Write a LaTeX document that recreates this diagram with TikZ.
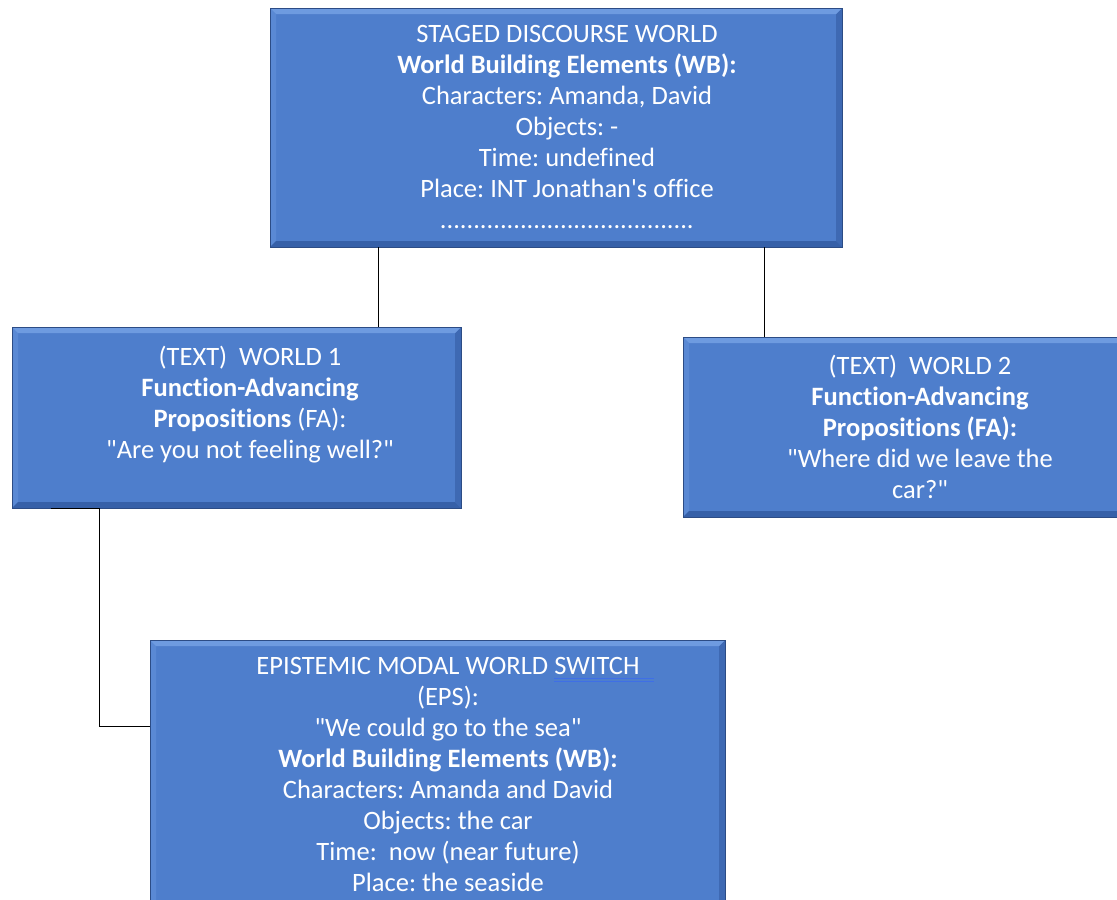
\documentclass[tikz,border=0pt]{standalone}
\usepackage{fontspec}
\setmainfont{Carlito}[Ligatures=TeXOff, RawFeature={-liga;-clig}]
\frenchspacing
\definecolor{boxfill}{HTML}{4E7ECC}
\definecolor{beveltop}{HTML}{6E9BE0}
\definecolor{bevelleft}{HTML}{5A89D4}
\definecolor{bevelright}{HTML}{3E69B3}
\definecolor{bevelbottom}{HTML}{3660A8}
\definecolor{edgecol}{HTML}{2C4C85}
\definecolor{markblue}{HTML}{3F6FE6}
% double proofing rule under a word, running a little past its end
\newlength\gramlen
\newcommand\gramrule[1]{\setbox0\hbox{#1}\setlength\gramlen{\wd0}\addtolength\gramlen{14pt}%
  \rlap{\color{markblue}\rule[-5pt]{\gramlen}{0.9pt}}\rlap{\color{markblue}\rule[-7.5pt]{\gramlen}{0.9pt}}\box0}
\tikzset{
  panel/.style={rectangle, draw=edgecol, line width=0.9pt, fill=boxfill, inner sep=0pt,
    path picture={
      \coordinate (pnw) at (path picture bounding box.north west);
      \coordinate (pne) at (path picture bounding box.north east);
      \coordinate (psw) at (path picture bounding box.south west);
      \coordinate (pse) at (path picture bounding box.south east);
      \fill[bevelleft] (pnw) -- ([shift={(6pt,-6pt)}]pnw) -- ([shift={(6pt,6pt)}]psw) -- (psw) -- cycle;
      \fill[bevelright] (pne) -- ([shift={(-6pt,-6pt)}]pne) -- ([shift={(-6pt,6pt)}]pse) -- (pse) -- cycle;
      \fill[bevelbottom] (psw) -- ([shift={(6pt,6pt)}]psw) -- ([shift={(-6pt,6pt)}]pse) -- (pse) -- cycle;
      \fill[beveltop] (pnw) -- ([shift={(6pt,-6pt)}]pnw) -- ([shift={(-6pt,-6pt)}]pne) -- (pne) -- cycle;
    }},
  label text/.style={text=white, align=center, inner sep=0pt,
    font=\fontsize{26.5}{31}\selectfont},
  link/.style={draw=black, line width=1.4pt}
}
\begin{document}
\begin{tikzpicture}[x=1pt,y=-1pt]
\clip (0,0) rectangle (1117,900);
\fill[white] (0,0) rectangle (1117,900);

% boxes
\node[panel, minimum width=572pt, minimum height=239pt] (sdw) at (556,127.5) {};
\node[panel, minimum width=449pt, minimum height=181pt] (w1) at (236.5,417.5) {};
\node[panel, minimum width=477pt, minimum height=180pt] (w2) at (921.5,427) {};
\node[panel, minimum width=575pt, minimum height=280pt] (eps) at (437.5,780) {};

% connectors
\draw[link] ([xshift=109pt]sdw.south west) -- ([xshift=109pt]sdw.south west |- w1.north);
\draw[link] ([xshift=495pt]sdw.south west) -- ([xshift=495pt]sdw.south west |- w2.north);
\draw[link] ([xshift=39pt]w1.south west) -- ([xshift=88pt]w1.south west) |- ([yshift=-87pt]eps.north west);

% texts
\node[label text] (sdwtxt) at (567,127) {STAGED DISCOURSE WORLD\\
  \textbf{World Building Elements (WB):}\\
  Characters: Amanda, David\\
  Objects: -\\
  Time: undefined\\
  Place: INT Jonathan's office\\
  ......................................};
\node[label text] (w1txt) at (250,405) {(TEXT)\ \ WORLD 1\\
  \textbf{Function-Advancing}\\
  \textbf{Propositions} (FA):\\
  "Are you not feeling well?"};
\node[label text] (w2txt) at (920,427) {(TEXT)\ \ WORLD 2\\
  \textbf{Function-Advancing}\\
  \textbf{Propositions (FA):}\\
  "Where did we leave the\\
  car?"};
\node[label text] (epstxt) at (448,774) {EPISTEMIC MODAL WORLD \gramrule{SWITCH}\\
  (EPS):\\
  "We could go to the sea"\\
  \textbf{World Building Elements (WB):}\\
  Characters: Amanda and David\\
  Objects: the car\\
  Time:\ \ now (near future)\\
  Place: the seaside};
\end{tikzpicture}
\end{document}
